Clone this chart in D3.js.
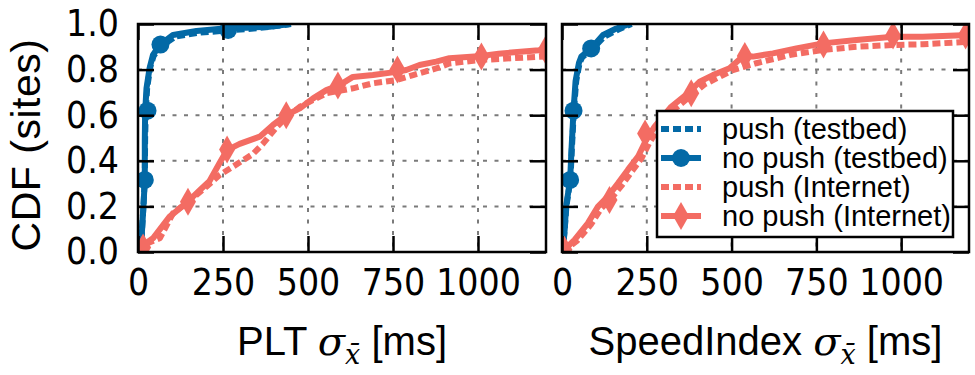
<!DOCTYPE html>
<html>
<head>
<meta charset="utf-8">
<script src="https://cdn.jsdelivr.net/npm/d3@7"></script>
<style>
  body { margin: 0; background: #fff; }
  text { font-family: "Liberation Sans Narrow", "DejaVu Sans Condensed", "Liberation Sans", sans-serif; fill: #000; }
  .lbl { font-family: "Liberation Sans", sans-serif; }
</style>
</head>
<body>
<svg id="chart" width="975" height="375"></svg>
<script>
'use strict';

const xTicks = [0, 250, 500, 750, 1000];
const yTicks = [0, 0.2, 0.4, 0.6, 0.8, 1.0];
const seriesNames = ['push (testbed)', 'no push (testbed)', 'push (Internet)', 'no push (Internet)'];

// PLT panel, [sigma ms, cdf]
const pltPushTestbed = [[8,0],[12,0.1],[16,0.2],[20,0.32],[21,0.5],[23,0.62],[27,0.72],[36,0.81],[46,0.86],[66,0.9],[110,0.945],[180,0.962],[270,0.972],[340,0.98],[400,0.99],[450,1.0]];
const pltNoPushTestbed = [[8,0],[12,0.1],[16,0.2],[20,0.316],[20,0.49],[21,0.615],[25,0.718],[34,0.806],[44,0.864],[64,0.908],[103,0.952],[172,0.969],[260,0.981],[319,0.984],[387,0.988],[446,1.0]];
const pltNoPushTestbedMarks = [[20,0.316],[28,0.62],[66,0.91],[265,0.974]];
const pltPushInternet = [[0,0],[5,0.016],[30,0.04],[64,0.06],[103,0.17],[142,0.214],[201,0.286],[240,0.338],[279,0.374],[338,0.43],[367,0.474],[407,0.547],[436,0.59],[476,0.637],[515,0.667],[554,0.696],[632,0.718],[691,0.74],[760,0.754],[809,0.776],[877,0.805],[916,0.827],[1004,0.842],[1102,0.85],[1200,0.858]];
const pltNoPushInternet = [[0,0],[5,0.016],[15,0.03],[44,0.06],[93,0.155],[142,0.214],[181,0.27],[210,0.31],[240,0.39],[262,0.447],[299,0.474],[358,0.506],[397,0.557],[436,0.601],[476,0.63],[515,0.674],[554,0.71],[593,0.732],[632,0.768],[691,0.776],[760,0.79],[789,0.798],[828,0.82],[877,0.835],[916,0.85],[1010,0.86],[1061,0.87],[1179,0.885],[1200,0.89]];
const pltNoPushInternetMarks = [[15,0.02],[147,0.22],[262,0.45],[436,0.6],[588,0.73],[763,0.8],[1010,0.857],[1198,0.886]];

// SpeedIndex panel
const siPushTestbed = [[2,0],[8,0.1],[13,0.2],[25,0.32],[29,0.45],[35,0.62],[42,0.75],[52,0.83],[60,0.855],[90,0.89],[125,0.945],[165,0.975],[205,1.0]];
const siNoPushTestbed = [[2,0],[8,0.1],[12,0.2],[24,0.316],[28,0.45],[34,0.62],[40,0.75],[50,0.83],[57,0.857],[86,0.893],[121,0.952],[160,0.98],[199,1.0]];
const siNoPushTestbedMarks = [[24,0.316],[34,0.62],[86,0.893]];
const siPushInternet = [[0,0],[10,0.01],[45,0.05],[85,0.12],[115,0.19],[145,0.235],[175,0.29],[204,0.35],[234,0.41],[258,0.48],[283,0.54],[330,0.625],[380,0.685],[420,0.735],[460,0.765],[504,0.798],[573,0.828],[671,0.864],[769,0.886],[868,0.9],[976,0.908],[1064,0.911],[1200,0.922]];
const siNoPushInternet = [[0,0],[7,0.01],[37,0.053],[76,0.126],[106,0.199],[135,0.243],[165,0.301],[194,0.36],[224,0.418],[248,0.491],[273,0.55],[322,0.637],[371,0.696],[406,0.747],[445,0.776],[494,0.806],[533,0.857],[563,0.857],[622,0.871],[691,0.893],[769,0.915],[868,0.93],[976,0.944],[1064,0.944],[1200,0.952]];
const siNoPushInternetMarks = [[7,0.01],[140,0.228],[245,0.52],[381,0.696],[539,0.86],[771,0.91],[976,0.95],[1190,0.95]];

const blue = '#0369a6';
const red = '#f36c63';

const svg = d3.select('#chart');
const plotTop = 24, plotBottom = 252;
const tickLen = 16;
const tickFont = 37;

const panels = [
  { id: 'plt', left: 138, right: 546, label: 'PLT ', showY: true,
    series: [pltPushTestbed, pltNoPushTestbed, pltPushInternet, pltNoPushInternet],
    marks: [null, pltNoPushTestbedMarks, null, pltNoPushInternetMarks] },
  { id: 'si', left: 562, right: 969, label: 'SpeedIndex ', showY: false,
    series: [siPushTestbed, siNoPushTestbed, siPushInternet, siNoPushInternet],
    marks: [null, siNoPushTestbedMarks, null, siNoPushInternetMarks] }
];

const styles = [
  { color: blue, dash: '8,4', marker: null },
  { color: blue, dash: null, marker: 'circle' },
  { color: red, dash: '8,4', marker: null },
  { color: red, dash: null, marker: 'diamond' }
];

const diamondPath = 'M0,-14L8,0L0,14L-8,0Z';

function drawMarker(g, kind, x, y, color) {
  if (kind === 'circle') {
    g.append('circle').attr('cx', x).attr('cy', y).attr('r', 9).attr('fill', color);
  } else if (kind === 'diamond') {
    g.append('path').attr('d', diamondPath).attr('transform', `translate(${x},${y})`).attr('fill', color);
  }
}

panels.forEach(function (p) {
  const x = d3.scaleLinear().domain([0, 1200]).range([p.left, p.right]);
  const y = d3.scaleLinear().domain([0, 1]).range([plotBottom, plotTop]);

  const g = svg.append('g');

  svg.append('clipPath').attr('id', 'clip-' + p.id)
    .append('rect')
    .attr('x', p.left).attr('y', plotTop)
    .attr('width', p.right - p.left).attr('height', plotBottom - plotTop);

  // grid
  const grid = g.append('g').attr('stroke', '#7a7a7a').attr('stroke-width', 2).attr('stroke-dasharray', '4,7.5');
  grid.selectAll('.gx').data(xTicks).enter().append('line')
    .attr('x1', d => x(d)).attr('x2', d => x(d)).attr('y1', plotTop).attr('y2', plotBottom);
  grid.selectAll('.gy').data(yTicks).enter().append('line')
    .attr('x1', p.left).attr('x2', p.right).attr('y1', d => y(d)).attr('y2', d => y(d));

  // curves
  const plot = g.append('g').attr('clip-path', `url(#clip-${p.id})`);
  const line = d3.line().x(d => x(d[0])).y(d => y(d[1]));
  p.series.forEach(function (data, i) {
    const s = styles[i];
    plot.append('path')
      .datum(data)
      .attr('d', line)
      .attr('fill', 'none')
      .attr('stroke', s.color)
      .attr('stroke-width', 6)
      .attr('stroke-linejoin', 'round')
      .attr('stroke-dasharray', s.dash);
    if (p.marks[i]) {
      p.marks[i].forEach(m => drawMarker(plot, s.marker, x(m[0]), y(m[1]), s.color));
    }
  });

  // axes with inward ticks
  const xAxis = d3.axisBottom(x).tickValues(xTicks).tickSize(-tickLen).tickPadding(17).tickFormat(d3.format('d'));
  g.append('g').attr('transform', `translate(0,${plotBottom})`).call(xAxis);
  g.append('g').attr('transform', `translate(0,${plotTop})`)
    .call(d3.axisTop(x).tickValues(xTicks).tickSize(-tickLen).tickFormat(''));
  const yAxis = d3.axisLeft(y).tickValues(yTicks).tickSize(-tickLen).tickPadding(19)
    .tickFormat(p.showY ? d3.format('.1f') : '');
  g.append('g').attr('transform', `translate(${p.left},0)`).call(yAxis);
  g.append('g').attr('transform', `translate(${p.right},0)`)
    .call(d3.axisRight(y).tickValues(yTicks).tickSize(-tickLen).tickFormat(''));

  g.selectAll('.domain').remove();
  g.selectAll('.tick line').attr('stroke', '#000').attr('stroke-width', 2.5);
  g.selectAll('.tick text').attr('font-size', tickFont).attr('fill', '#000')
    .style('font-family', '"Liberation Sans Narrow", "DejaVu Sans Condensed", "Liberation Sans", sans-serif');

  g.append('rect')
    .attr('x', p.left).attr('y', plotTop)
    .attr('width', p.right - p.left).attr('height', plotBottom - plotTop)
    .attr('fill', 'none').attr('stroke', '#000').attr('stroke-width', 2.5);

  // x label
  const t = g.append('text').attr('class', 'lbl')
    .attr('x', (p.left + p.right) / 2).attr('y', 355)
    .attr('text-anchor', 'middle').attr('font-size', 40);
  t.append('tspan').text(p.label);
  t.append('tspan').attr('font-style', 'italic').attr('font-family', 'DejaVu Serif').text('σ');
  t.append('tspan').attr('font-style', 'italic').attr('font-family', 'DejaVu Serif')
    .attr('font-size', 27).attr('dy', 9).text('x\u0304');
  t.append('tspan').attr('dy', -9).text(' [ms]');
});

// y label
svg.append('text').attr('class', 'lbl')
  .attr('transform', 'translate(40,145) rotate(-90)')
  .attr('text-anchor', 'middle').attr('font-size', 41)
  .attr('letter-spacing', 0.5)
  .text('CDF (sites)');

// legend
const lg = svg.append('g').attr('transform', 'translate(657,111)');
lg.append('rect').attr('width', 296).attr('height', 126)
  .attr('fill', '#fff').attr('stroke', '#000').attr('stroke-width', 2.5);
seriesNames.forEach(function (name, i) {
  const s = styles[i];
  const cy = 18 + i * 29;
  lg.append('line').attr('x1', 4).attr('x2', 44).attr('y1', cy).attr('y2', cy)
    .attr('stroke', s.color).attr('stroke-width', 6).attr('stroke-dasharray', s.dash);
  drawMarker(lg, s.marker, 24, cy, s.color);
  lg.append('text').attr('class', 'lbl').attr('x', 65).attr('y', cy)
    .attr('dy', '0.35em').attr('font-size', 29).text(name);
});
</script>
</body>
</html>
